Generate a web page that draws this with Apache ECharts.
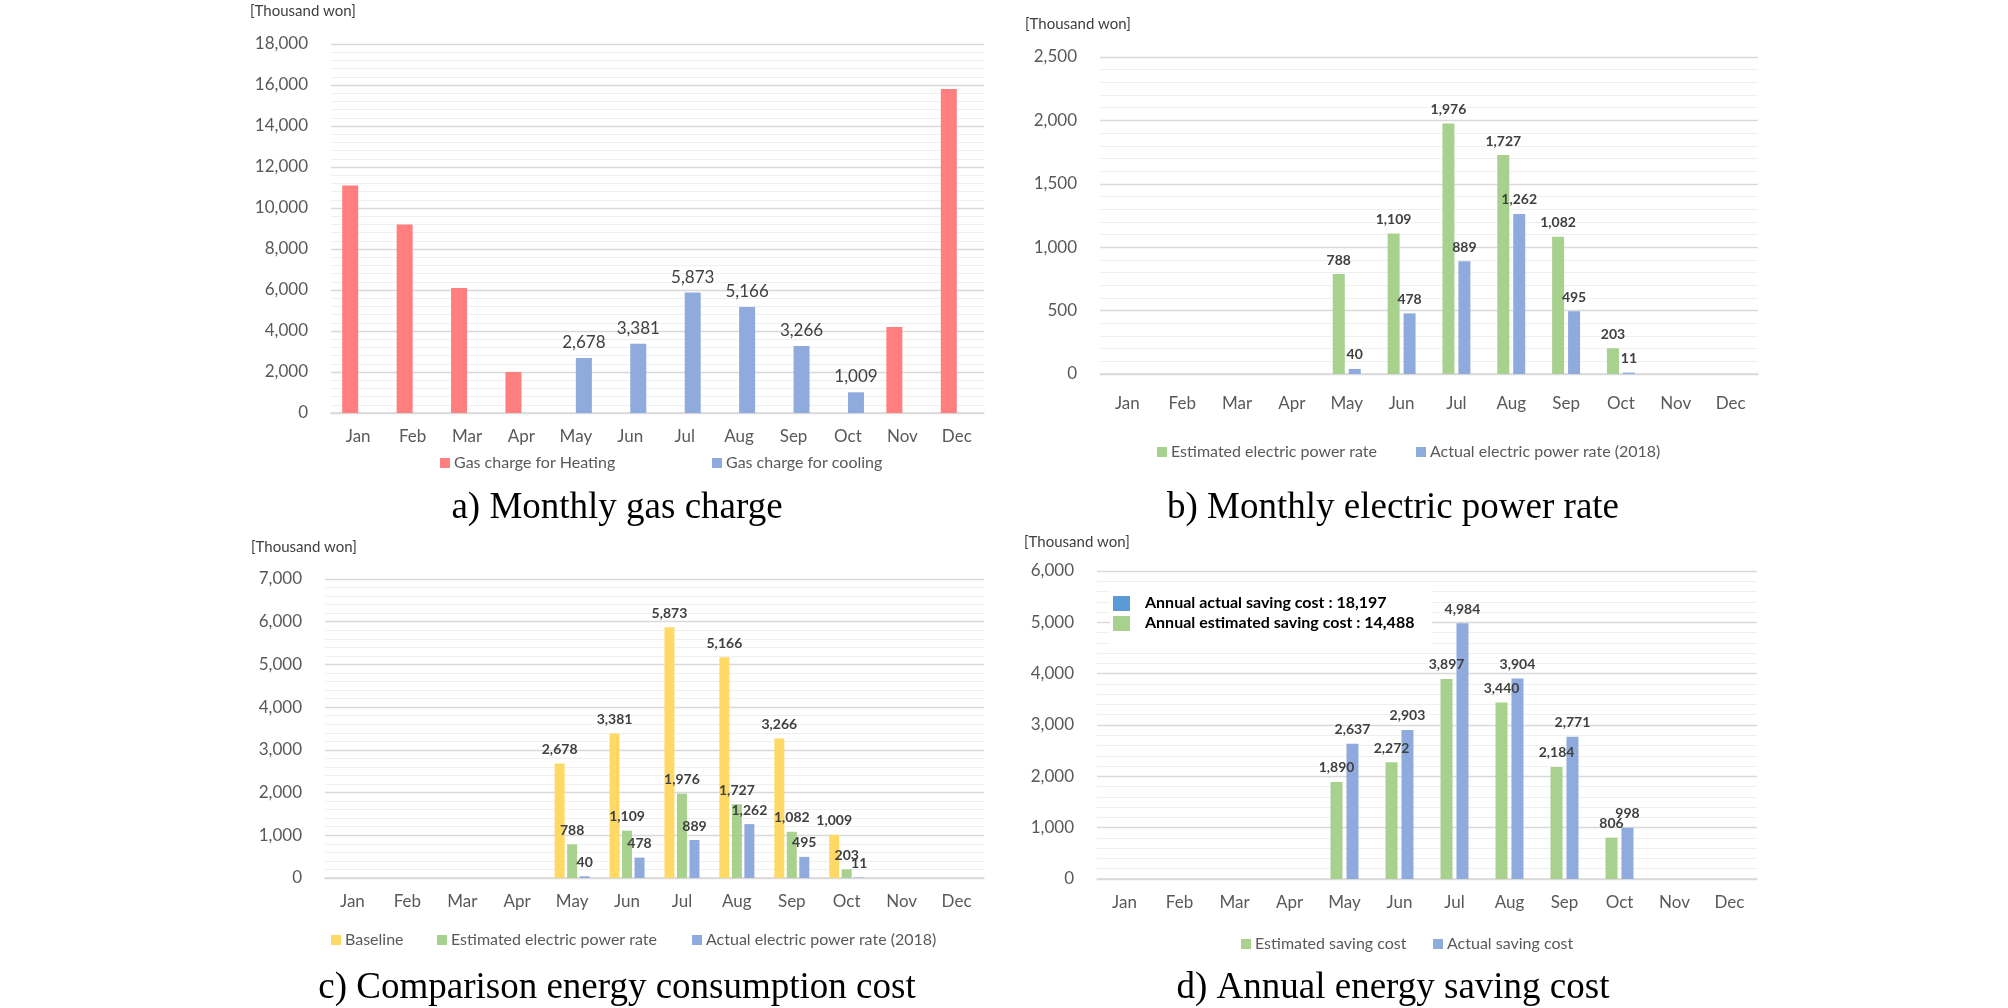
<!DOCTYPE html>
<html>
<head>
<meta charset="utf-8">
<script src="https://cdn.jsdelivr.net/npm/echarts@6/dist/echarts.min.js"></script>
<style>
html,body{margin:0;padding:0;background:#fff;}
#chart{width:2008px;height:1008px;}
</style>
</head>
<body>
<div id="chart"></div>
<script>
// ---------- data ----------
const months = ['Jan','Feb','Mar','Apr','May','Jun','Jul','Aug','Sep','Oct','Nov','Dec'];
const gasHeating   = [11100, 9200, 6100, 2000, null, null, null, null, null, null, 4200, 15800];
const gasCooling   = [null, null, null, null, 2678, 3381, 5873, 5166, 3266, 1009, null, null];
const elecEstimated = [null, null, null, null, 788, 1109, 1976, 1727, 1082, 203, null, null];
const elecActual    = [null, null, null, null, 40, 478, 889, 1262, 495, 11, null, null];
const baselineCost  = [null, null, null, null, 2678, 3381, 5873, 5166, 3266, 1009, null, null];
const savingEstimated = [null, null, null, null, 1890, 2272, 3897, 3440, 2184, 806, null, null];
const savingActual    = [null, null, null, null, 2637, 2903, 4984, 3904, 2771, 998, null, null];
const annualActualSaving = 18197;
const annualEstimatedSaving = 14488;
const axisMaxA = 18000, axisStepA = 2000;
const axisMaxB = 2500,  axisStepB = 500;
const axisMaxC = 7000,  axisStepC = 1000;
const axisMaxD = 6000,  axisStepD = 1000;
const unitLabel = '[Thousand won]';
const captions = ['a) Monthly gas charge','b) Monthly electric power rate','c) Comparison energy consumption cost','d) Annual energy saving cost'];

// ---------- styles ----------
const FONT = 'Lato, "Open Sans", sans-serif';
const C_RED = '#FF7F7F', C_BLUE = '#8FAADC', C_GREEN = '#A9D18E', C_YELLOW = '#FFD966', C_DBLUE = '#5B9BD5';
const fmt = v => Number(v).toLocaleString('en-US');

const grids = [
  {left:331, top:44, width:653, height:369},
  {left:1100, top:57, width:658, height:317},
  {left:325, top:579, width:659, height:299},
  {left:1097, top:571, width:660, height:308}
];
const xMargins = [15, 21, 15, 15];
const yMax = [axisMaxA, axisMaxB, axisMaxC, axisMaxD];
const yStep = [axisStepA, axisStepB, axisStepC, axisStepD];

const xAxes = grids.map((g,i)=>({
  type:'category', gridIndex:i, data:months,
  axisTick:{show:false},
  axisLine:{lineStyle:{color:'#D9D9D9', width:1.5}},
  axisLabel:{color:'#595959', fontSize:17, fontFamily:FONT, margin:xMargins[i]},
  splitLine:{show:false}
}));
const yAxes = grids.map((g,i)=>({
  type:'value', gridIndex:i, min:0, max:yMax[i], interval:yStep[i],
  axisLine:{show:false}, axisTick:{show:false},
  axisLabel:{color:'#595959', fontSize:17, fontFamily:FONT, margin:23, formatter:fmt},
  splitLine:{lineStyle:{color:'#D9D9D9', width:1.3}},
  minorTick:{show:false, splitNumber:5},
  minorSplitLine:{show:true, lineStyle:{color:'#EFEFEF', width:1}}
}));

function bar(name, data, idx, color, width, gap, label, bold){
  return {
    name, type:'bar', data, xAxisIndex:idx, yAxisIndex:idx,
    barWidth:width, barGap:gap,
    itemStyle:{color},
    label: label ? {show:true, position:'top', distance:7, color:'#404040',
      fontSize: bold?14:17, fontWeight: bold?'bold':'normal', fontFamily:FONT,
      formatter:p=>fmt(p.value)} : {show:false},
    emphasis:{disabled:true},
    animation:false
  };
}

const series = [
  bar('Gas charge for Heating', gasHeating, 0, C_RED, 16, '0%', false, false),
  bar('Gas charge for cooling', gasCooling, 0, C_BLUE, 16, '0%', true, false),
  bar('Estimated electric power rate', elecEstimated, 1, C_GREEN, 12, '33%', true, true),
  bar('Actual electric power rate (2018)', elecActual, 1, C_BLUE, 12, '33%', true, true),
  bar('Baseline', baselineCost, 2, C_YELLOW, 10, '25%', true, true),
  bar('Estimated electric power rate ', elecEstimated, 2, C_GREEN, 10, '25%', true, true),
  bar('Actual electric power rate (2018) ', elecActual, 2, C_BLUE, 10, '25%', true, true),
  bar('Estimated saving cost', savingEstimated, 3, C_GREEN, 12, '33%', true, true),
  bar('Actual saving cost', savingActual, 3, C_BLUE, 12, '33%', true, true)
];

function leg(name, left, top){
  return {data:[name], left, top, icon:'rect', itemWidth:10, itemHeight:10, itemGap:0,
    selectedMode:false, textStyle:{color:'#595959', fontSize:16, fontFamily:FONT, padding:[0,0,0,-1]}};
}
const legends = [
  leg('Gas charge for Heating', 435, 450),
  leg('Gas charge for cooling', 707, 450),
  leg('Estimated electric power rate', 1152, 439),
  leg('Actual electric power rate (2018)', 1411, 439),
  leg('Baseline', 326, 927),
  leg('Estimated electric power rate ', 432, 927),
  leg('Actual electric power rate (2018) ', 687, 927),
  leg('Estimated saving cost', 1236, 931),
  leg('Actual saving cost', 1428, 931)
];

const capPos = [[617,508],[1393,508],[617,988],[1393,988]];
const unitPos = [[250,11],[1025,24],[251,547],[1024,542]];
const graphic = [];
captions.forEach((t,i)=>graphic.push({type:'text', x:capPos[i][0], y:capPos[i][1],
  style:{text:t, fill:'#000', font:'37px "Liberation Serif", "Times New Roman", serif', align:'center', verticalAlign:'middle'}}));
unitPos.forEach(p=>graphic.push({type:'text', x:p[0], y:p[1],
  style:{text:unitLabel, fill:'#404040', font:'15px '+FONT, align:'left', verticalAlign:'middle'}}));
// inset legend of panel d (white box hides gridlines)
graphic.push({type:'rect', z:10, shape:{x:1110, y:586, width:322, height:58}, style:{fill:'#fff'}});
graphic.push({type:'rect', z:11, shape:{x:1113, y:596, width:17, height:15}, style:{fill:C_DBLUE}});
graphic.push({type:'rect', z:11, shape:{x:1113, y:616, width:17, height:15}, style:{fill:C_GREEN}});
graphic.push({type:'text', z:11, x:1145, y:603, style:{text:'Annual actual saving cost : '+fmt(annualActualSaving), fill:'#000', font:'bold 16px '+FONT, align:'left', verticalAlign:'middle'}});
graphic.push({type:'text', z:11, x:1145, y:623, style:{text:'Annual estimated saving cost : '+fmt(annualEstimatedSaving), fill:'#000', font:'bold 16px '+FONT, align:'left', verticalAlign:'middle'}});

const chart = echarts.init(document.getElementById('chart'), null, {renderer:'canvas'});
chart.setOption({
  backgroundColor:'#fff',
  animation:false,
  grid:grids,
  xAxis:xAxes,
  yAxis:yAxes,
  legend:legends,
  series,
  graphic
});
</script>
</body>
</html>
